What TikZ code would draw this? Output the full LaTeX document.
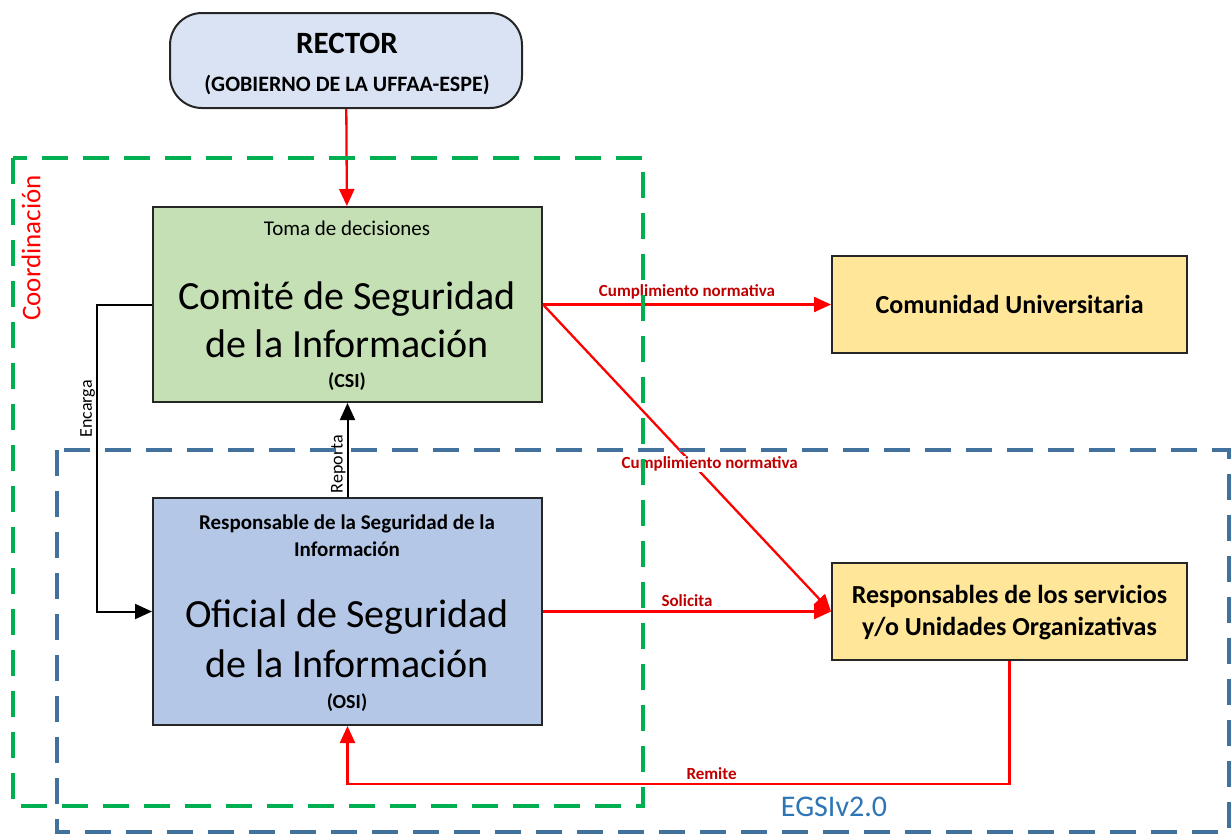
\documentclass[tikz,border=0pt]{standalone}
\usepackage{fontspec}
\setmainfont{Carlito}
\usetikzlibrary{arrows.meta,calc}

\definecolor{rectorfill}{HTML}{DAE3F3}
\definecolor{csifill}{HTML}{C5E0B4}
\definecolor{osifill}{HTML}{B4C7E7}
\definecolor{yellowfill}{HTML}{FFE699}
\definecolor{coordgreen}{HTML}{00B050}
\definecolor{egsiblue}{HTML}{41719C}
\definecolor{egsitext}{HTML}{2E75B6}
\definecolor{lbldark}{HTML}{C00000}

\newcommand{\fsz}[1]{\fontsize{#1}{#1}\selectfont}

\begin{document}
\begin{tikzpicture}[x=1pt,y=-1pt,
    box/.style={draw=black!85, line width=2pt, inner sep=0pt},
    redarrow/.style={draw=red, line width=2.3pt, -{Triangle[length=17pt,width=15pt]}},
    blackarrow/.style={draw=black, line width=2pt, -{Triangle[length=17pt,width=15pt]}},
    lbl/.style={fill=white, text=lbldark, inner sep=1pt, font=\bfseries\fontsize{17}{19}\selectfont},
    vlbl/.style={fill=white, text=black, inner sep=1pt, rotate=90, anchor=south, font=\fontsize{18}{20}\selectfont},
    frame/.style={line width=3.2pt, dash pattern=on 26pt off 15pt}]

    % Canvas
    \useasboundingbox (0,0) rectangle (1231,836);

    % Boxes
    \node[box, fill=rectorfill, rounded corners=32pt, minimum width=352pt, minimum height=95pt] (rector) at (346,60.5) {};
    \node[box, fill=csifill, minimum width=389pt, minimum height=195pt] (csi) at (347.5,304.5) {};
    \node[box, fill=osifill, minimum width=389pt, minimum height=227pt] (osi) at (347.5,611.5) {};
    \node[box, fill=yellowfill, minimum width=355pt, minimum height=97pt] (comunidad) at (1009.5,304.5) {};
    \node[box, fill=yellowfill, minimum width=355pt, minimum height=97pt] (resp) at (1009.5,611.5) {};

    % Texts in the boxes
    \node[font=\bfseries\fsz{31}] (rectorname) at (347,43) {RECTOR};
    \node[font=\bfseries\fsz{22}] (rectorsub) at (347,85) {(GOBIERNO DE LA UFFAA-ESPE)};

    \node[font=\fsz{21}] (csitop) at (347,228) {Toma de decisiones};
    \node[font=\fontsize{40}{48}\selectfont, align=center] (csiname) at (347,320) {Comité de Seguridad\\de la Información};
    \node[font=\bfseries\fsz{20}] (csiabbr) at (347,382) {(CSI)};

    \node[font=\bfseries\fontsize{21}{27}\selectfont, align=center] (ositop) at (347,536) {Responsable de la Seguridad de la\\Información};
    \node[font=\fontsize{40}{50}\selectfont, align=center] (osiname) at (347,639) {Oficial de Seguridad\\de la Información};
    \node[font=\bfseries\fsz{20}] (osiabbr) at (347,703) {(OSI)};

    \node[font=\bfseries\fsz{26}] (comname) at (1009.5,304) {Comunidad Universitaria};
    \node[font=\bfseries\fontsize{26}{32}\selectfont, align=center] (respname) at (1009.5,613) {Responsables de los servicios\\y/o Unidades Organizativas};

    % Helper points
    \coordinate (encarga) at (97,0);
    \coordinate (remite) at (0,784);

    % Red connectors
    \draw[redarrow] (rector) -- (csi);
    \draw[redarrow] (csi.east) -- (comunidad.west)
        node[lbl, midway, above=3pt] (lblcum) {Cumplimiento normativa};
    \draw[redarrow] (csi.east) -- (resp.west)
        node[lbl, pos=0.52, xshift=17pt] (lblcumdiag) {Cumplimiento normativa};
    \draw[redarrow] (osi.east) -- (resp.west)
        node[lbl, midway, above=3pt] (lblsolicita) {Solicita};
    \draw[redarrow] (resp.south) -- (resp.south |- remite) -| (osi.south)
        node[lbl, pos=0.225, above=2pt] (lblremite) {Remite};

    % Black connectors
    \draw[blackarrow] (csi.west) -- (csi.west -| encarga) |- (osi.west)
        node[vlbl, pos=0.17] (lblencarga) {Encarga};
    \draw[blackarrow] (osi.north) -- (csi.south)
        node[vlbl, pos=0.35] (lblreporta) {Reporta};

    % Dashed frames
    \draw[frame, draw=egsiblue] (57,450) rectangle (1229,832);
    \draw[frame, draw=coordgreen] (13,158) rectangle (643,806);

    % Frame titles
    \node[text=red, rotate=90, font=\fsz{27}] (coordtitle) at (31,248) {Coordinación};
    \node[text=egsitext, font=\fsz{30}] (egsititle) at (834,807) {EGSIv2.0};
\end{tikzpicture}
\end{document}
